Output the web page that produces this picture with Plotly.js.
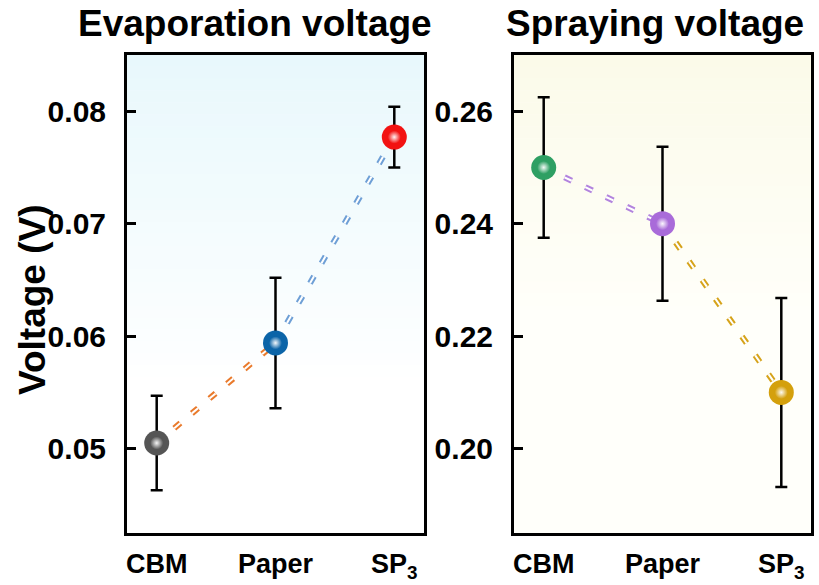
<!DOCTYPE html>
<html>
<head>
<meta charset="utf-8">
<script src="https://cdn.plot.ly/plotly-3.0.1.min.js"></script>
<style>html,body{margin:0;padding:0;background:#fff;}#chart{width:819px;height:585px;}</style>
</head>
<body>
<div id="chart"></div>
<script>
// ---- data ----
const categories = ['CBM', 'Paper', 'SP<sub>3</sub>'];
const evapValues = [0.0505, 0.0594, 0.0777];
const evapErrors = [0.0042, 0.0058, 0.0027];
const sprayValues = [0.250, 0.240, 0.210];
const sprayErrors = [0.0125, 0.0137, 0.0168];
const evapTicks = [0.05, 0.06, 0.07, 0.08];
const evapTickText = ['0.05', '0.06', '0.07', '0.08'];
const sprayTicks = [0.20, 0.22, 0.24, 0.26];
const sprayTickText = ['0.20', '0.22', '0.24', '0.26'];
const panelTitles = ['Evaporation voltage', 'Spraying voltage'];
const yTitle = 'Voltage (V)';

// ---- styles ----
const evapColors = ['#555555', '#0b64a8', '#f21212'];
const sprayColors = ['#2e9f63', '#a96bd9', '#d4a00c'];
const evapSegColors = ['#e97a2c', '#6e9fd6'];
const spraySegColors = ['#b283de', '#d6a31a'];
const FONT = 'Liberation Sans, Arial, Helvetica, sans-serif';

const traces = [];

function addPanel(vals, errs, colors, segColors, xa, ya) {
  for (let i = 0; i < vals.length - 1; i++) {
    const xs = [categories[i], categories[i + 1]];
    const ys = [vals[i], vals[i + 1]];
    traces.push({
      x: xs, y: ys, xaxis: xa, yaxis: ya, mode: 'lines', hoverinfo: 'skip',
      line: {color: segColors[i], width: 6, dash: '8px,15px'}, showlegend: false
    });
    traces.push({
      x: xs, y: ys, xaxis: xa, yaxis: ya, mode: 'lines', hoverinfo: 'skip',
      line: {color: '#ffffff', width: 2, dash: '8px,15px'}, showlegend: false
    });
  }
  traces.push({
    x: categories, y: vals, xaxis: xa, yaxis: ya, mode: 'markers', showlegend: false,
    marker: {size: 25, color: colors, line: {width: 0}},
    error_y: {type: 'data', array: errs, visible: true, color: '#000000', thickness: 2.5, width: 6}
  });
  traces.push({
    x: categories, y: vals, xaxis: xa, yaxis: ya, mode: 'markers', showlegend: false, hoverinfo: 'skip',
    marker: {size: 13, color: colors, opacity: 0.95, line: {width: 0},
             gradient: {type: 'radial', color: '#ffffff'}}
  });
}

addPanel(evapValues, evapErrors, evapColors, evapSegColors, 'x', 'y');
addPanel(sprayValues, sprayErrors, sprayColors, spraySegColors, 'x2', 'y2');

function hexToRgb(h) { return [parseInt(h.substr(1,2),16), parseInt(h.substr(3,2),16), parseInt(h.substr(5,2),16)]; }
function bands(xref, yref, top, bottom, fadeEnd) {
  const out = [];
  const n = 40;
  const t = hexToRgb(top), b = hexToRgb(bottom);
  for (let i = 0; i < n; i++) {
    const y1 = 1 - i / n, y0 = 1 - (i + 1) / n;
    let f = Math.min(1, ((i + 0.5) / n) / fadeEnd);
    const c = t.map((v, k) => Math.round(v + (b[k] - v) * f));
    out.push({type: 'rect', xref: xref, yref: yref, x0: 0, x1: 1, y0: y0, y1: y1 + 0.001,
      fillcolor: 'rgb(' + c.join(',') + ')', line: {width: 0}, layer: 'below'});
  }
  return out;
}
const shapes = [].concat(
  bands('x domain', 'y domain', '#e8f8fc', '#ffffff', 0.7),
  bands('x2 domain', 'y2 domain', '#fbfae9', '#fffffa', 0.55)
);

const axisX = (dom, anchor) => ({
  domain: dom, anchor: anchor, type: 'category', range: [-0.25, 2.25],
  showline: true, mirror: true, linewidth: 3, linecolor: '#000', ticks: '',
  showgrid: false, zeroline: false, ticklabelstandoff: 5,
  tickfont: {family: FONT, size: 27, weight: 'bold', color: '#000'}
});
const axisY = (dom, anchor, range, tv, tt) => ({
  domain: dom, anchor: anchor, range: range, tickvals: tv, ticktext: tt,
  showline: true, mirror: true, linewidth: 3, linecolor: '#000',
  ticks: 'inside', ticklen: 9, tickwidth: 3, tickcolor: '#000',
  showgrid: false, zeroline: false, ticklabelstandoff: 12,
  tickfont: {family: FONT, size: 30, weight: 'bold', color: '#000'}
});

const W = 819, H = 585;
const yDom = [1 - 533 / H, 1 - 55 / H];
const layout = {
  width: W, height: H,
  margin: {l: 0, r: 0, t: 0, b: 0},
  paper_bgcolor: '#ffffff', plot_bgcolor: '#ffffff',
  showlegend: false,
  xaxis: axisX([127 / W, 424 / W], 'y'),
  yaxis: axisY(yDom, 'x', [0.0425, 0.085], evapTicks, evapTickText),
  xaxis2: axisX([514 / W, 811 / W], 'y2'),
  yaxis2: axisY(yDom, 'x2', [0.185, 0.27], sprayTicks, sprayTickText),
  shapes: shapes,
  annotations: [
    {text: panelTitles[0], xref: 'paper', yref: 'paper', x: 255 / W, y: 1 - 24 / H,
     xanchor: 'center', yanchor: 'middle', showarrow: false,
     font: {family: FONT, size: 37, weight: 'bold', color: '#000'}},
    {text: panelTitles[1], xref: 'paper', yref: 'paper', x: 655 / W, y: 1 - 24 / H,
     xanchor: 'center', yanchor: 'middle', showarrow: false,
     font: {family: FONT, size: 37, weight: 'bold', color: '#000'}},
    {text: yTitle, xref: 'paper', yref: 'paper', x: 32 / W, y: 1 - 300 / H,
     xanchor: 'center', yanchor: 'middle', textangle: -90, showarrow: false,
     font: {family: FONT, size: 37, weight: 'bold', color: '#000'}}
  ]
};

Plotly.newPlot('chart', traces, layout, {displayModeBar: false, staticPlot: true});
</script>
</body>
</html>
